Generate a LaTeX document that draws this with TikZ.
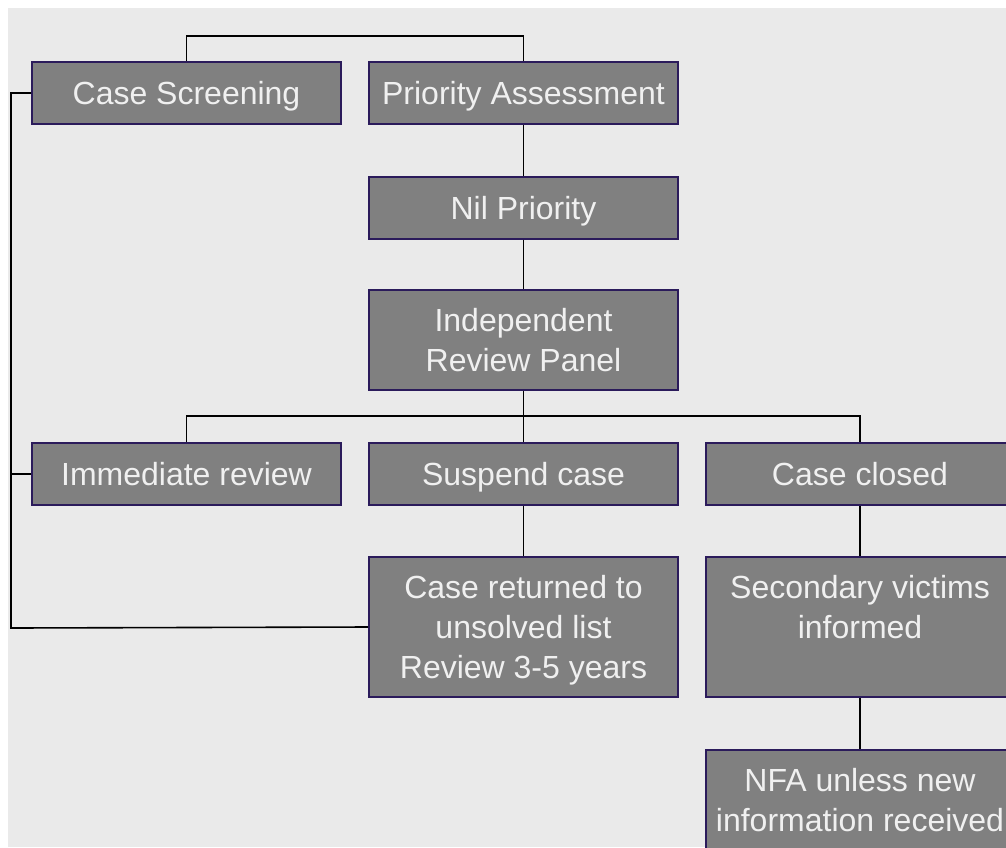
\documentclass[tikz,border=0pt]{standalone}
\usepackage{fontspec}
\setmainfont{Liberation Sans}
\usetikzlibrary{positioning}

\definecolor{fondo}{HTML}{EAEAEA}
\definecolor{caja}{HTML}{808080}
\definecolor{borde}{HTML}{2B1B5B}
\definecolor{letra}{HTML}{F0F0F0}

\tikzset{
caja/.style={rectangle,draw=borde,line width=1pt,fill=caja,text=letra,align=center,
  minimum width=154.5pt,inner sep=0pt,font=\fontsize{16}{20}\selectfont},
paso/.style={caja,minimum height=31pt,text height=15pt,text depth=3.5pt},
pasoAlto/.style={caja,minimum height=50pt},
pasoTriple/.style={caja,minimum height=70pt,text depth=0pt},
enlace/.style={black,line width=0.8pt}
}

\begin{document}
\begin{tikzpicture}[x=0.5pt,y=-0.5pt]
    \useasboundingbox (0,0) rectangle (1006,847);
    \clip (0,0) rectangle (1006,847);
    \fill[white] (0,0) rectangle (1006,847);
    \fill[fondo] (8,8) rectangle (1006,847);

    % cajas
    \node[paso] (screen) at (186.5,93) {Case Screening};
    \node[paso] (prio) at (523.5,93) {Priority Assessment};
    \node[paso] (nil) at (523.5,207.5) {Nil Priority};
    \node[pasoAlto] (panel) at (523.5,340) {Independent\\Review Panel};
    \node[paso] (immed) at (186.5,474) {Immediate review};
    \node[paso] (suspend) at (523.5,474) {Suspend case};
    \node[paso] (closed) at (860,474) {Case closed};
    \node[pasoTriple] (returned) at (523.5,627) {Case returned to\\unsolved list\\Review 3-5 years};
    \node[pasoTriple] (secondary) at (860,627) {Secondary victims\\informed\\\mbox{}};
    \node[pasoAlto] (nfa) at (860,800) {NFA unless new\\information received};

    % enlaces
    \coordinate (top) at (523.5,36);
    \coordinate (split) at (523.5,416);
    \coordinate (ltop) at (11,93);
    \coordinate (lbot) at (11,628);

    \draw[enlace] (screen.north) |- (top) -- (prio.north);
    \draw[enlace] (prio.south) -- (nil.north);
    \draw[enlace] (nil.south) -- (panel.north);
    \draw[enlace] (panel.south) -- (split);
    \draw[enlace] (immed.north) |- (split) -| (closed.north);
    \draw[enlace] (split) -- (suspend.north);
    \draw[enlace] (suspend.south) -- (returned.north);
    \draw[enlace] (closed.south) -- (secondary.north);
    \draw[enlace] (secondary.south) -- (nfa.north);
    \draw[enlace] (screen.west) -- (ltop) -- (lbot) -- (returned.west);
    \draw[enlace] (immed.west) -- (immed.west-|ltop);
\end{tikzpicture}
\end{document}
